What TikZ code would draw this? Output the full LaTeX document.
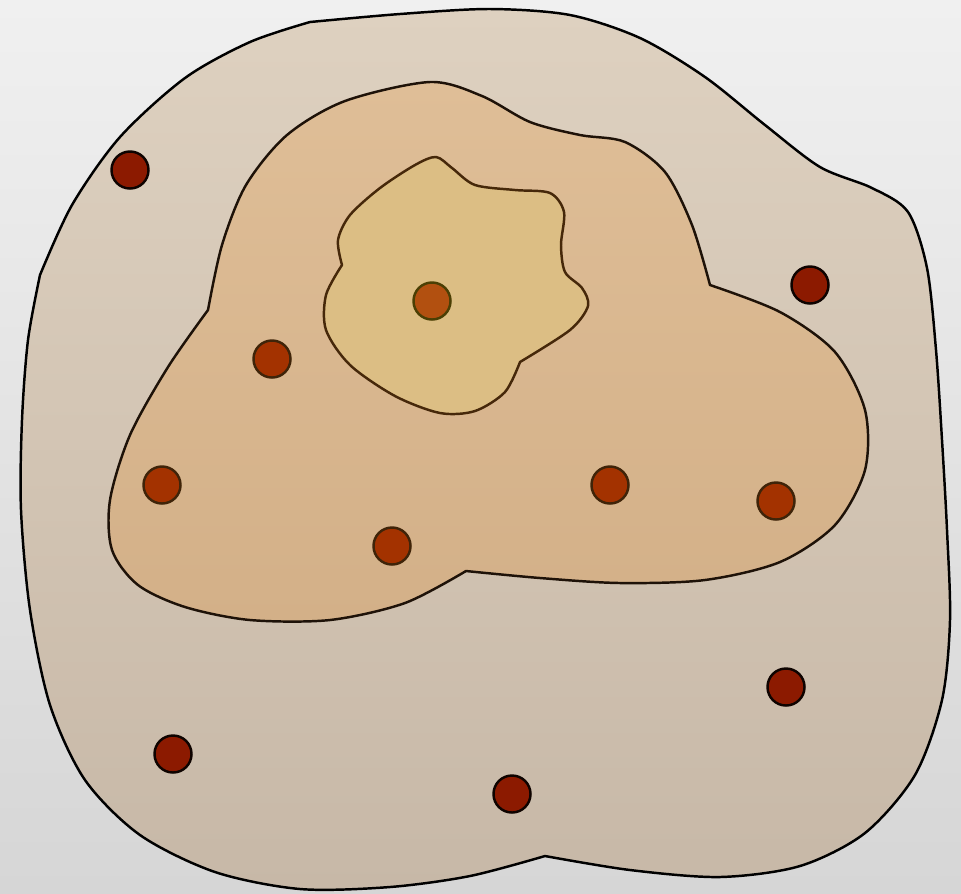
\documentclass[tikz,border=0pt]{standalone}
\usepackage{tikz}
\usepackage{xcolor}
\usetikzlibrary{positioning, calc}
\definecolor{bgTop}{RGB}{240,240,240}
\definecolor{bgBot}{RGB}{214,214,214}
\definecolor{outerTop}{RGB}{222,209,192}
\definecolor{outerBot}{RGB}{199,184,167}
\definecolor{midTop}{RGB}{223,190,151}
\definecolor{midBot}{RGB}{211,176,136}
\definecolor{innerFill}{RGB}{220,190,132}
\definecolor{dotOut}{RGB}{140,26,0}
\definecolor{dotMid}{RGB}{163,50,0}
\definecolor{dotIn}{RGB}{178,80,16}
\definecolor{lineMid}{RGB}{30,18,8}
\definecolor{lineIn}{RGB}{70,40,10}

\begin{document}
\begin{tikzpicture}[x=0.01cm, y=-0.01cm,
        blob/.style={line width=0.7pt, line join=round},
        dot/.style={circle, draw, fill=#1, minimum size=0.37cm, inner sep=0pt, line width=0.7pt},
        outdot/.style={dot=dotOut, draw=black!90!dotOut},
        middot/.style={dot=dotMid, draw=lineIn!90!black},
        indot/.style={dot=dotIn, draw=lineIn!70!yellow!60!black}
      ]
        \useasboundingbox (0,0) rectangle (961,893);
        \fill[top color=bgTop, bottom color=bgBot] (0,0) rectangle (961,893);
        % outer region
        \draw[blob, draw=black, top color=outerTop, bottom color=outerBot]
          plot[smooth] coordinates {(40,275) (72,205) (120,137) (185,78) (250,42) (310,22)}
          -- plot[smooth] coordinates {(310,22) (400,14) (490,9) (570,15) (640,38) (705,77) (765,125) (820,167) (872,188) (908,212) (927,268) (936,350) (942,440) (947,530) (950,620) (942,700) (915,775) (865,833) (800,866) (720,877) (630,870) (545,856)}
          -- plot[smooth] coordinates {(545,856) (470,876) (390,887) (300,889) (215,872) (140,835) (85,780) (50,705) (30,610) (21,510) (22,420) (28,340) (40,275)}
          -- cycle;
        % middle region
        \draw[blob, draw=lineMid, top color=midTop, bottom color=midBot]
          plot[smooth] coordinates {(208,310) (222,245) (246,185) (287,135) (345,101) (430,82) (482,96) (530,122) (580,135) (625,142) (665,172) (692,225) (710,285)}
          -- plot[smooth] coordinates {(710,285) (780,312) (835,352) (865,410) (865,470) (835,525) (780,562) (705,580) (620,583) (540,578) (466,571)}
          -- plot[smooth] coordinates {(466,571) (405,603) (330,620) (250,620) (185,607) (138,585) (112,550) (110,500) (130,435) (168,367) (208,310)}
          -- cycle;
        % inner region
        \draw[blob, draw=lineIn, fill=innerFill]
          plot[smooth] coordinates {(342,265) (338,240) (350,215) (380,188) (415,165) (436,157) (452,168) (475,185) (515,190) (550,193) (564,212) (561,245) (565,272) (582,288) (588,306) (570,330) (520,362)}
          -- plot[smooth] coordinates {(520,362) (505,392) (475,411) (440,413) (395,396) (350,365) (326,330) (326,295) (342,265)}
          -- cycle;
        % dots
        \node[outdot] (o1) at (130,170) {};
        \node[outdot] (o2) at (810,285) {};
        \node[outdot] (o3) at (786,687) {};
        \node[outdot] (o4) at (173,754) {};
        \node[outdot] (o5) at (512,794) {};
        \node[middot] (m1) at (272,359) {};
        \node[middot] (m2) at (162,485) {};
        \node[middot] (m3) at (392,546) {};
        \node[middot] (m4) at (610,485) {};
        \node[middot] (m5) at (776,501) {};
        \node[indot]  (i1) at (432,301) {};
      \end{tikzpicture}
\end{document}
